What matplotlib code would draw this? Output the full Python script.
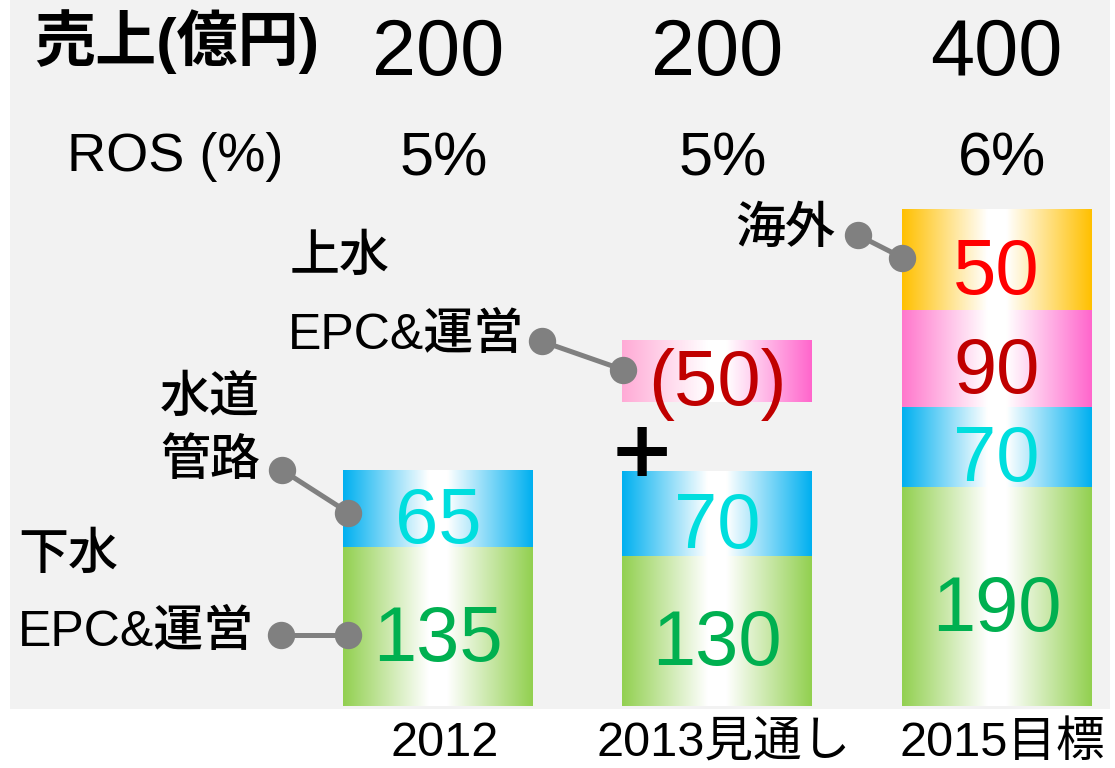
import numpy as np
import matplotlib
matplotlib.use('Agg')
import matplotlib.pyplot as plt
from matplotlib.colors import to_rgb

LAT = ['Liberation Sans', 'DejaVu Sans']
JP = ['Liberation Sans', 'Noto Sans CJK JP']

years = ['2012', '2013見通し', '2015目標']
sales = ['200', '200', '400']
ros = ['5%', '5%', '6%']

# numbers written in each block (bottom -> top)
gesui_lbl = ['135', '130', '190']
kanro_lbl = ['65', '70', '70']
josui_lbl = ['', '(50)', '90']
kaigai_lbl = ['', '', '50']

# block heights as drawn in the picture (2015 is not to scale)
gesui_h = [135, 127, 186]
kanro_h = [65, 72, 67]
josui_gap = [0, 59, 0]
josui_h = [0, 52, 83]
kaigai_h = [0, 0, 85]

green = '#92d050'
blue = '#00b0f0'
pink = '#ff66cc'
orange = '#ffc000'

x = np.arange(len(years))
width = 0.68

fig = plt.figure(figsize=(11.15, 7.68), dpi=100)
ax = fig.add_axes([10 / 1115, 59 / 768, 1100 / 1115, 709 / 768])
ax.set_facecolor('#f2f2f2')
ax.set_xlim(-1.533, 2.406)
ax.set_ylim(-2.5, 598.3)
for s in ax.spines.values():
    s.set_visible(False)
ax.set_xticks([])
ax.set_yticks([])


def grad_block(xc, bottom, h, left_col, right_col=None):
    if h <= 0:
        return
    if right_col is None:
        right_col = left_col
    t = np.linspace(0, 1, 256)
    l = np.array(to_rgb(left_col))
    r = np.array(to_rgb(right_col))
    w = np.ones(3)
    rgb = np.zeros((1, 256, 3))
    for i, v in enumerate(t):
        if v < 0.45:
            f = v / 0.45
            rgb[0, i] = l * (1 - f) + w * f
        elif v < 0.55:
            rgb[0, i] = w
        else:
            f = (v - 0.55) / 0.45
            rgb[0, i] = w * (1 - f) + r * f
    ax.imshow(rgb, extent=[xc - width / 2, xc + width / 2, bottom, bottom + h],
              aspect='auto', interpolation='bilinear', zorder=2)


def block_label(xc, bottom, h, txt, col):
    if txt == '':
        return
    ax.text(xc, bottom + h / 2 - 29, txt, ha='center', va='baseline',
            fontsize=56, color=col, family=LAT, zorder=4)


for i in range(len(years)):
    b = 0
    grad_block(x[i], b, gesui_h[i], green)
    block_label(x[i], b, gesui_h[i], gesui_lbl[i], '#00b050')
    b += gesui_h[i]
    grad_block(x[i], b, kanro_h[i], blue)
    block_label(x[i], b, kanro_h[i], kanro_lbl[i], '#00dede')
    b += kanro_h[i] + josui_gap[i]
    left_pink = '#ffaad6' if i == 1 else '#ff77cc'
    grad_block(x[i], b, josui_h[i], left_pink, pink)
    block_label(x[i], b, josui_h[i], josui_lbl[i], '#c00000')
    b += josui_h[i]
    grad_block(x[i], b, kaigai_h[i], orange)
    block_label(x[i], b, kaigai_h[i], kaigai_lbl[i], '#ff0000')

# header rows
ax.text(-1.447, 563, '売上(億円)', ha='left', va='center', fontsize=44,
        fontweight='bold', family=JP)
ax.text(-0.942, 453, 'ROS (%)', ha='center', va='baseline', fontsize=39, family=LAT)
for i in range(len(years)):
    ax.text(x[i], 535, sales[i], ha='center', va='baseline', fontsize=57, family=LAT)
    ax.text(x[i] + 0.02, 450, ros[i], ha='center', va='baseline', fontsize=44, family=LAT)
    ax.text(x[i] + 0.022, -42.5, years[i], ha='center', va='baseline', fontsize=35,
            family=JP, clip_on=False)

# segment names with connectors
names = [('下水', -1.504, 127), ('EPC&運営', -1.504, 62),
         ('水道', -0.995, 260), ('管路', -0.995, 207),
         ('上水', -0.53, 380), ('EPC&運営', -0.537, 314),
         ('海外', 1.064, 404)]
for txt, tx, ty in names:
    ax.text(tx, ty, txt, ha='left', va='center', fontsize=36, fontweight='medium',
            family=JP, zorder=5)

links = [((-0.562, 60), (-0.322, 60)),
         ((-0.559, 200), (-0.322, 164)),
         ((0.372, 309), (0.6625, 285)),
         ((1.504, 399), (1.662, 380))]
for (x0, y0), (x1, y1) in links:
    ax.plot([x0, x1], [y0, y1], color='#808080', lw=3.6, marker='o', ms=18.7,
            zorder=6, solid_capstyle='butt')

ax.text(0.73, 214, '+', ha='center', va='center', fontsize=57, fontweight='bold',
        family='DejaVu Sans', zorder=5)

fig.savefig('out.png', dpi=100, facecolor='white')
